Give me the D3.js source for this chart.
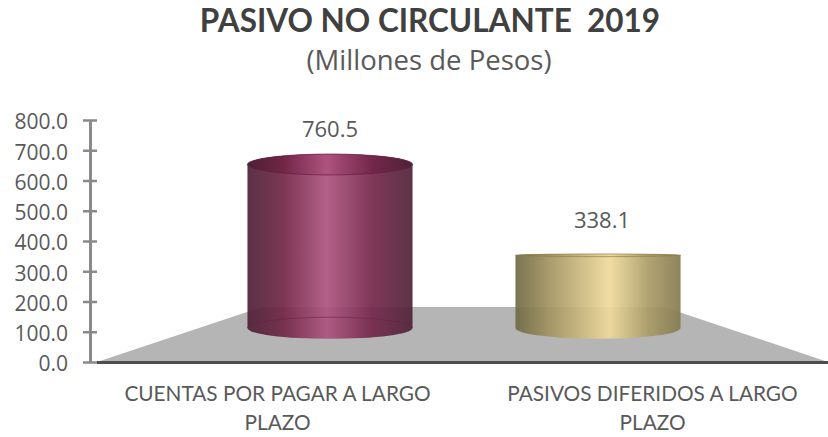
<!DOCTYPE html>
<meta charset="utf-8">
<style>
html, body { margin: 0; background: #fff; }
svg { display: block; }
.tick text { font-family: "Open Sans", sans-serif; font-size: 21px; fill: #595959; }
.val { font-family: "Open Sans", sans-serif; font-size: 22px; fill: #595959; }
.cat { font-family: Lato, sans-serif; font-size: 20.8px; fill: #595959; }
.title { font-family: Lato, sans-serif; font-weight: 700; font-size: 31.5px; fill: #404040; }
.sub { font-family: "Open Sans", sans-serif; font-size: 27.5px; fill: #595959; }
</style>
<body>
<script src="https://cdn.jsdelivr.net/npm/d3@7"></script>
<script>
var categories = ["CUENTAS POR PAGAR A LARGO|PLAZO", "PASIVOS DIFERIDOS A LARGO|PLAZO"];
var values = [760.5, 338.1];
var yTicks = [0, 100, 200, 300, 400, 500, 600, 700, 800];
var barIds = ["guinda", "oro"];
var stopsGuinda = [[0, "#4c2035"], [0.22, "#722646"], [0.48, "#ad537f"], [0.75, "#74274a"], [1, "#4f2238"]];
var stopsOro = [[0, "#6f6845"], [0.2, "#a0925f"], [0.57, "#f0da9a"], [0.8, "#ab9d68"], [1, "#84794e"]];

var width = 828, height = 437;
var baseY = 362, floorBack = 307, cylBase = 328, eyeY = 245;

var svg = d3.select("body").append("svg")
    .attr("width", width)
    .attr("height", height);

// gradientes de los cilindros
var defs = svg.append("defs");
[stopsGuinda, stopsOro].forEach(function(stops, i) {
  var g = defs.append("linearGradient").attr("id", "grad-" + barIds[i]);
  g.selectAll("stop").data(stops).enter().append("stop")
      .attr("offset", function(d) { return d[0]; })
      .attr("stop-color", function(d) { return d[1]; });
});

var y = d3.scaleLinear().domain([0, 800]).range([baseY, 120]);
// altura de la barra en perspectiva (mas chica que el eje)
var h = d3.scaleLinear().domain([0, 800]).range([cylBase, cylBase - 172]);
var xLabel = d3.scaleBand().domain(categories).range([90, 840]);
var x = d3.scaleBand().domain(categories).range([196, 732]).paddingInner(0.384).paddingOuter(0.192);

// piso
svg.append("path")
    .attr("d", "M97," + baseY + "L262," + floorBack + "L664," + floorBack + "L828," + baseY + "Z")
    .attr("fill", "#b5b5b5");
svg.append("line")
    .attr("x1", 97).attr("x2", 828).attr("y1", baseY + 0.5).attr("y2", baseY + 0.5)
    .attr("stroke", "#4d4d4d").attr("stroke-width", 3);

function ry(py) { return Math.abs(py - eyeY) * 0.13; }

var bar = svg.selectAll(".bar")
    .data(values)
  .enter().append("g")
    .attr("class", "bar");

// cuerpo
bar.append("path")
    .attr("d", function(d, i) {
      var l = x(categories[i]), r = l + x.bandwidth(), a = x.bandwidth() / 2, t = h(d);
      return "M" + l + "," + t + "L" + l + "," + cylBase +
        "A" + a + "," + ry(cylBase) + " 0 0 0 " + r + "," + cylBase +
        "L" + r + "," + t +
        "A" + a + "," + ry(t) + " 0 0 0 " + l + "," + t + "Z";
    })
    .attr("fill", function(d, i) { return "url(#grad-" + barIds[i] + ")"; })
    .attr("fill-opacity", 0.92);

// borde trasero del fondo, se ve a traves del cilindro
bar.append("path")
    .attr("d", function(d, i) {
      var l = x(categories[i]), r = l + x.bandwidth(), a = x.bandwidth() / 2;
      return "M" + l + "," + cylBase + "A" + a + "," + ry(cylBase) + " 0 0 1 " + r + "," + cylBase;
    })
    .attr("fill", "none")
    .attr("stroke", function(d, i) { return i ? "none" : "#6a1d43"; })
    .attr("stroke-opacity", 0.55);

// tapa
bar.append("ellipse")
    .attr("cx", function(d, i) { return x(categories[i]) + x.bandwidth() / 2; })
    .attr("cy", function(d) { return h(d); })
    .attr("rx", x.bandwidth() / 2)
    .attr("ry", function(d) { return ry(h(d)); })
    .attr("fill", function(d, i) { return "url(#grad-" + barIds[i] + ")"; })
    .attr("stroke", function(d, i) { return i ? "#8f8150" : "#6a1d43"; })
    .attr("stroke-opacity", 0.7)
    .attr("stroke-width", 1);

bar.append("text")
    .attr("class", "val")
    .attr("text-anchor", "middle")
    .attr("x", function(d, i) { return x(categories[i]) + x.bandwidth() / 2 + i * 4; })
    .attr("y", function(d) { return h(d) - 27; })
    .text(function(d) { return d.toFixed(1); });

// eje y
var axis = svg.append("g")
    .attr("transform", "translate(90,0)")
    .call(d3.axisLeft(y).tickValues(yTicks).tickFormat(d3.format(".1f")).tickSize(7).tickSizeOuter(0));
axis.select(".domain").attr("stroke", "#8a8a8a").attr("stroke-width", 3);
axis.selectAll(".tick line").attr("x1", -7).attr("x2", 7).attr("stroke", "#8a8a8a").attr("stroke-width", 2.5);
axis.selectAll(".tick text").attr("x", -22).attr("dy", ".42em");

// etiquetas de categoria
var cat = svg.selectAll(".cat")
    .data(categories)
  .enter().append("text")
    .attr("class", "cat")
    .attr("text-anchor", "middle")
    .attr("transform", function(d) { return "translate(" + (xLabel(d) + xLabel.bandwidth() / 2) + ",0)"; });
cat.selectAll("tspan")
    .data(function(d) { return d.split("|"); })
  .enter().append("tspan")
    .attr("x", 0)
    .attr("y", function(d, i) { return 401 + i * 29; })
    .text(function(d) { return d; });

// titulos
svg.append("text").attr("class", "title").attr("text-anchor", "middle")
    .attr("x", 430).attr("y", 32).text("PASIVO NO CIRCULANTE\u00a0 2019");
svg.append("text").attr("class", "sub").attr("text-anchor", "middle")
    .attr("x", 429).attr("y", 70).text("(Millones de Pesos)");
</script>
</body>
